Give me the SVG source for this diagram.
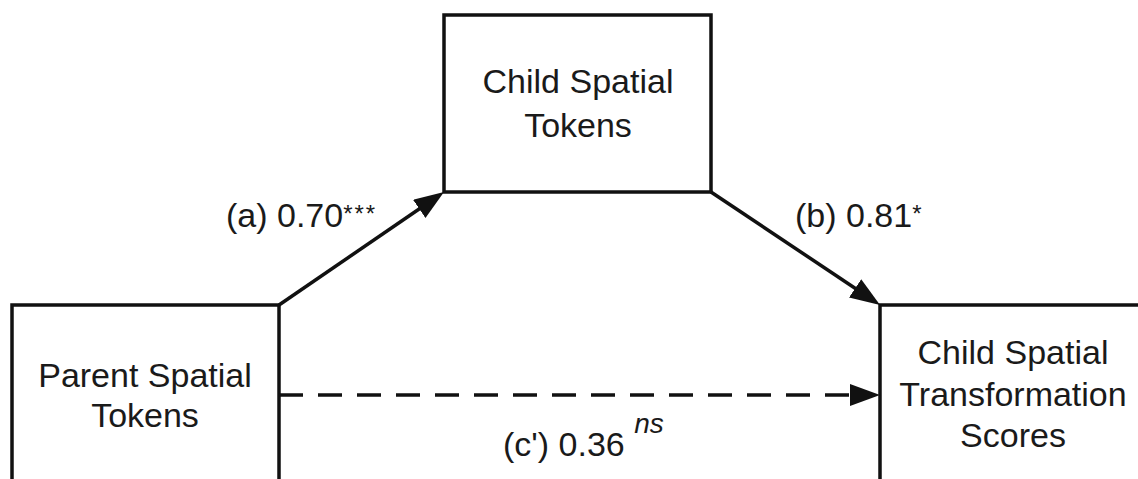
<svg xmlns="http://www.w3.org/2000/svg" width="1138" height="479" viewBox="0 0 1138 479">
  <style>
    .box { fill: #ffffff; stroke: #111111; stroke-width: 3.5; }
    .lbl { font-family: "Liberation Sans", Arial, sans-serif; font-size: 34px; fill: #1a1a1a; }
    .mid { text-anchor: middle; }
    .edge { stroke: #111111; stroke-width: 3.5; fill: none; }
    .dash { stroke-dasharray: 24 15; }
  </style>
  <defs>
    <marker id="arrow" markerUnits="userSpaceOnUse" markerWidth="32" markerHeight="24" refX="22" refY="11" orient="auto">
      <path d="M0,0 L30,11 L0,22 Z" fill="#111111"/>
    </marker>
  </defs>
  <rect width="1138" height="479" fill="#ffffff"/>

  <g id="node-parent">
    <rect class="box" x="12" y="305" width="267" height="200"/>
    <text class="lbl mid" x="145" y="387">Parent Spatial</text>
    <text class="lbl mid" x="145" y="427">Tokens</text>
  </g>

  <g id="node-child-tokens">
    <rect class="box" x="444" y="15" width="267" height="177"/>
    <text class="lbl mid" x="578" y="93">Child Spatial</text>
    <text class="lbl mid" x="578" y="137">Tokens</text>
  </g>

  <g id="node-child-scores">
    <rect class="box" x="880" y="305" width="280" height="200"/>
    <text class="lbl mid" x="1013" y="364">Child Spatial</text>
    <text class="lbl mid" x="1013" y="406">Transformation</text>
    <text class="lbl mid" x="1013" y="447">Scores</text>
  </g>

  <g id="connectors">
    <line class="edge" x1="279" y1="305" x2="437.4" y2="196.5" marker-end="url(#arrow)"/>
    <line class="edge" x1="711" y1="192" x2="873.4" y2="300.5" marker-end="url(#arrow)"/>
    <line class="edge dash" x1="279" y1="395" x2="872" y2="395" marker-end="url(#arrow)"/>
    <text class="lbl" x="226" y="227">(a) 0.70<tspan font-size="24" dy="-5" letter-spacing="2">***</tspan></text>
    <text class="lbl" x="795" y="227">(b) 0.81<tspan font-size="24" dy="-5">*</tspan></text>
    <text class="lbl" x="503" y="456">(c') 0.36 <tspan font-size="28" font-style="italic" dy="-23">ns</tspan></text>
  </g>
</svg>
